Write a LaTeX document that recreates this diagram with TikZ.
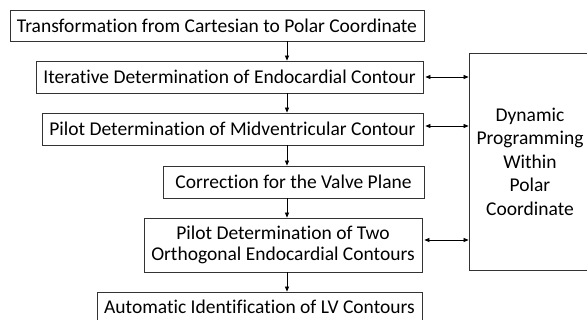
\documentclass[tikz,border=0pt]{standalone}
\usepackage{fontspec}
\setmainfont{Carlito}[Ligatures=NoCommon]
\usepackage{tikz}
\usetikzlibrary{arrows.meta, positioning}

\begin{document}
\begin{tikzpicture}[
    x=1pt, y=-1pt,
    box/.style={rectangle, draw=black!80, line width=0.8pt, minimum height=32pt, align=center, inner sep=0pt, font=\fontsize{19.5}{21}\selectfont},
    arrow/.style={-{Triangle[length=5pt, width=4pt]}, line width=0.7pt},
    dblarrow/.style={{Triangle[length=5pt, width=4pt]}-{Triangle[length=5pt, width=4pt]}, line width=0.7pt}
]
    \clip (0,0) rectangle (587,320);

    % Main chain
    \node[box, minimum width=414pt, minimum height=31pt] (polar) at (217,25.5) {Transformation from Cartesian to Polar Coordinate};
    \node[box, minimum width=387pt] (endo) at (229.5,77) {Iterative Determination of Endocardial Contour};
    \node[box, minimum width=381pt] (midv) at (232.5,129) {Pilot Determination of Midventricular Contour};
    \node[box, minimum width=261pt] (valve) at (293.5,182) {Correction for the Valve Plane};
    \node[box, minimum width=278pt, minimum height=54pt] (ortho) at (283,245) {Pilot Determination of Two\\Orthogonal Endocardial Contours};
    \node[box, minimum width=325pt, minimum height=30pt] (lv) at (259.5,307) {Automatic Identification of LV Contours};

    % Side box
    \node[box, minimum width=122pt, minimum height=217pt, font=\fontsize{19.5}{23.5}\selectfont] (dp) at (530,161.5) {Dynamic\\Programming\\Within\\Polar\\Coordinate};

    % Arrows
    \coordinate (ax) at (287,0);
    \draw[arrow] (polar.south -| ax) -- (endo.north -| ax);
    \draw[arrow] (endo.south -| ax) -- (midv.north -| ax);
    \draw[arrow] (midv.south -| ax) -- (valve.north -| ax);
    \draw[arrow] (valve.south -| ax) -- (ortho.north -| ax);
    \draw[arrow] (ortho.south -| ax) -- (lv.north -| ax);
    \draw[dblarrow, shorten <=2pt] (endo.east) -- (endo.east -| dp.west);
    \draw[dblarrow, shorten <=2pt] ([yshift=3pt]midv.east) -- ([yshift=3pt]midv.east -| dp.west);
    \draw[dblarrow, shorten <=2pt] ([yshift=5pt]ortho.east) -- ([yshift=5pt]ortho.east -| dp.west);

\end{tikzpicture}
\end{document}
